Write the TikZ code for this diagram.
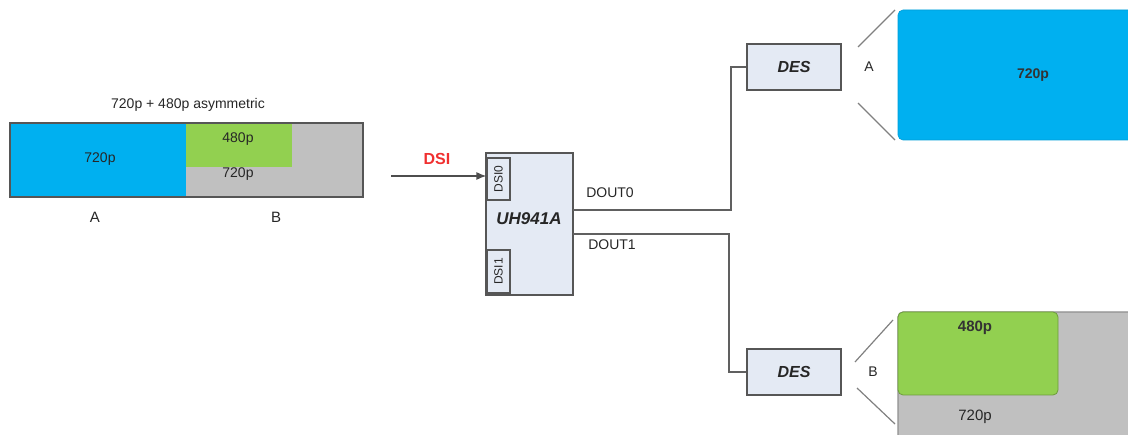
\documentclass[tikz,border=0pt]{standalone}
\usepackage{fontspec}
\setmainfont{Liberation Sans}
\usetikzlibrary{arrows.meta}
\definecolor{cblue}{HTML}{00B0F0}
\definecolor{cgreen}{HTML}{92D050}
\definecolor{cgray}{HTML}{C0C0C0}
\definecolor{cbox}{HTML}{E4EAF4}
\definecolor{cline}{HTML}{606060}
\definecolor{cred}{HTML}{F03030}
\tikzset{
  region/.style={draw=none, inner sep=0pt, anchor=north west},
  chip/.style={draw=cline!90!black, line width=1.3pt, fill=cbox, inner sep=0pt},
  port/.style={draw=cline!90!black, line width=1.1pt, fill=cbox, inner sep=0pt, minimum width=23pt},
  wire/.style={draw=cline, line width=2.4pt},
  fan/.style={draw=cline!80, line width=1.2pt},
  lbl/.style={font=\fontsize{14}{16}\selectfont, text=black!85, inner sep=1pt},
}
\begin{document}
\begin{tikzpicture}[x=1pt,y=-1pt]
\useasboundingbox (0,0) rectangle (1128,435);
% ---- left bar
\node[region, fill=cblue, minimum width=176pt, minimum height=74pt] (ba) at (10,123) {};
\node[region, fill=cgray, minimum width=177pt, minimum height=74pt] (bb) at (186,123) {};
\node[region, fill=cgreen, minimum width=106pt, minimum height=44pt] (bg) at (186,123) {};
\draw[draw=cline!90!black, line width=1.4pt] (10,123) rectangle (363,197);
\node[lbl] (ttl) at (188,105) {720p + 480p asymmetric};
\node[lbl] (t1) at (100,159) {720p};
\node[lbl] (t2) at (238,139) {480p};
\node[lbl] (t3) at (238,174) {720p};
\node[lbl, font=\fontsize{15}{17}\selectfont] (la) at (95,217) {A};
\node[lbl, font=\fontsize{15}{17}\selectfont] (lb) at (276,217) {B};
% ---- chip
\node[chip, minimum width=87pt, minimum height=142pt] (uh) at (529.5,224) {};
\node[font=\fontsize{17}{19}\selectfont\bfseries\itshape, text=black!85] (uhl) at (529,219) {UH941A};
\node[port, minimum height=42pt] (p0) at (498.5,179) {};
\node[rotate=90, font=\fontsize{12}{13}\selectfont, text=black!85, inner sep=0pt] (p0t) at (p0) {DSI0};
\node[port, minimum height=43pt] (p1) at (498.5,271.5) {};
\node[rotate=90, font=\fontsize{12}{13}\selectfont, text=black!85, inner sep=0pt] (p1t) at (p1) {DSI1};
% ---- DSI input
\coordinate (src) at (391,176);
\draw[draw=cline!80!black, line width=1.4pt, -{Latex[length=10pt,width=8pt]}] (src) -- (p0.west |- src);
\node[font=\fontsize{16}{18}\selectfont\bfseries, text=cred] (dsi) at (437,159) {DSI};
% ---- DES boxes
\node[chip, minimum width=94pt, minimum height=46pt] (des0) at (794,67) {};
\node[font=\fontsize{16}{18}\selectfont\bfseries\itshape, text=black!85] at (des0) {DES};
\node[chip, minimum width=94pt, minimum height=46pt] (des1) at (794,372) {};
\node[font=\fontsize{16}{18}\selectfont\bfseries\itshape, text=black!85] at (des1) {DES};
% ---- wires
\coordinate (o0) at (573,210);
\coordinate (o1) at (573,234);
\coordinate (k0) at (731,0);
\coordinate (k1) at (729,0);
\draw[wire] (o0) -- (o0 -| k0) |- (des0.west);
\draw[wire] (o1) -- (o1 -| k1) |- (des1.west);
\node[lbl] (d0) at (610,193) {DOUT0};
\node[lbl] (d1) at (612,245) {DOUT1};
% ---- right A
\draw[fill=cblue, draw=cblue!90!black, line width=0.6pt, rounded corners=5pt] (898,10) rectangle (1140,140);
\node[font=\fontsize{14}{16}\selectfont\bfseries, text=black!80] (ra) at (1033,75) {720p};
\coordinate (fa1) at (858,47);
\coordinate (fa2) at (858,103);
\coordinate (fa3) at (895,10);
\coordinate (fa4) at (895,140);
\draw[fan] (fa1) -- (fa3);
\draw[fan] (fa2) -- (fa4);
\node[lbl] (aa) at (869,67) {A};
% ---- right B
\fill[cgray, rounded corners=5pt] (898,312) rectangle (1140,450);
\draw[draw=cline!70, line width=1.2pt, rounded corners=5pt] (898,450) -- (898,312) -- (1140,312);
\draw[fill=cgreen, draw=cgreen!75!black, line width=0.8pt, rounded corners=5pt] (898,312) rectangle (1058,395);
\node[font=\fontsize{15}{17}\selectfont\bfseries, text=black!80] (rb1) at (975,328) {480p};
\node[font=\fontsize{15}{17}\selectfont, text=black!85] (rb2) at (975,417) {720p};
\coordinate (fb1) at (855,362);
\coordinate (fb2) at (857,388);
\coordinate (fb3) at (893,320);
\coordinate (fb4) at (895,424);
\draw[fan] (fb1) -- (fb3);
\draw[fan] (fb2) -- (fb4);
\node[lbl] (bbb) at (873,372) {B};
\end{tikzpicture}
\end{document}
